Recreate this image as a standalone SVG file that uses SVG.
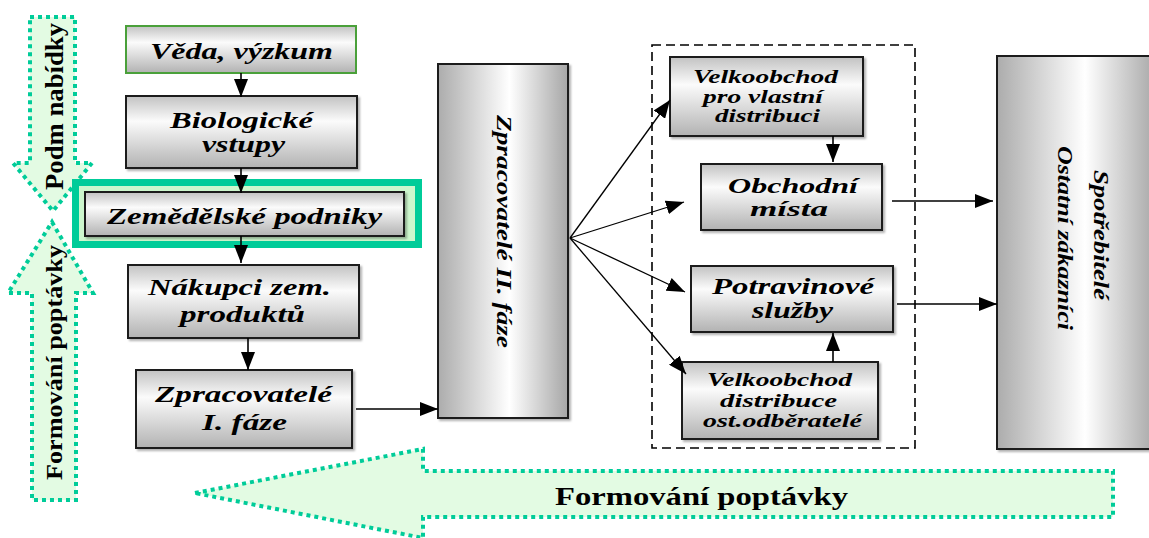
<svg xmlns="http://www.w3.org/2000/svg" width="1149" height="538" viewBox="0 0 1149 538">
<style>
.box{stroke:#1a1a1a;stroke-width:2;fill:url(#gv);filter:url(#sh)}
.tall{stroke:#1a1a1a;stroke-width:2;fill:url(#gh);filter:url(#sh)}
.t{font-family:"Liberation Serif","Times New Roman",serif;font-weight:bold;font-style:italic;fill:#000}
.tb{font-family:"Liberation Serif","Times New Roman",serif;font-weight:bold;fill:#000}
.big{font-size:24px}
.sm{font-size:19px}
.con{stroke:#000;stroke-width:1.6;fill:none;marker-end:url(#ah)}
.fan{stroke:#000;stroke-width:1.3;fill:none;marker-end:url(#ah)}
.dot{fill:#e3fbe3;stroke:#00cc99;stroke-width:4;stroke-dasharray:4 4}
</style>
<defs>
<linearGradient id="gv" x1="0" y1="0" x2="0" y2="1">
<stop offset="0" stop-color="#c2c2c2"/>
<stop offset="0.35" stop-color="#fbfbfb"/>
<stop offset="1" stop-color="#b2b2b2"/>
</linearGradient>
<linearGradient id="gh" x1="0" y1="0" x2="1" y2="0">
<stop offset="0" stop-color="#acacac"/>
<stop offset="0.55" stop-color="#ffffff"/>
<stop offset="1" stop-color="#a6a6a6"/>
</linearGradient>
<filter id="sh" x="-5%" y="-5%" width="115%" height="115%">
<feDropShadow dx="2" dy="2" stdDeviation="1" flood-color="#000" flood-opacity="0.3"/>
</filter>
<marker id="ah" markerUnits="userSpaceOnUse" markerWidth="18" markerHeight="14" viewBox="0 0 18 14" refX="18" refY="7" orient="auto">
<path d="M0,0 L18,7 L0,14 Z" fill="#000"/>
</marker>
</defs>

<g id="podm-nabidky">
<polygon class="dot" points="30,17 75,17 75,163 92,163 53,211 13,163 30,163"/>
<text class="tb" font-size="25" transform="translate(63,190) rotate(-90)" textLength="167" lengthAdjust="spacingAndGlyphs">Podm nabídky</text>
</g>
<g id="formovani-left">
<polygon class="dot" points="52,222 93,293 76,293 76,500 32,500 32,293 8,293"/>
<text class="tb" font-size="23" transform="translate(62,480) rotate(-90)" textLength="235" lengthAdjust="spacingAndGlyphs">Formování poptávky</text>
</g>
<g id="formovani-bottom">
<polygon class="dot" points="195,493 423,449 423,471 1113,471 1113,517 423,517 423,538"/>
<text class="tb" font-size="26" x="555" y="505" textLength="293" lengthAdjust="spacingAndGlyphs">Formování poptávky</text>
</g>

<g id="dashed-group">
<rect x="652" y="45" width="263" height="403" fill="none" stroke="#000" stroke-width="1.6" stroke-dasharray="9 5"/>
</g>

<g id="veda-vyzkum">
<rect x="126" y="26" width="230" height="47" fill="url(#gv)" stroke="#4aa03a" stroke-width="2"/>
<text class="t big" x="150" y="59" textLength="183" lengthAdjust="spacingAndGlyphs">Věda, výzkum</text>
</g>
<g id="biologicke-vstupy">
<rect class="box" x="126" y="96" width="231" height="72"/>
<text class="t big" x="170" y="128" textLength="143" lengthAdjust="spacingAndGlyphs">Biologické</text>
<text class="t big" x="202" y="152" textLength="83" lengthAdjust="spacingAndGlyphs">vstupy</text>
</g>
<g id="zemedelske-podniky">
<rect x="75.5" y="182.5" width="343" height="62" fill="#cdf7cd" stroke="#00cc99" stroke-width="7"/>
<rect class="box" x="85" y="192" width="319" height="44"/>
<text class="t big" x="107" y="224" textLength="275" lengthAdjust="spacingAndGlyphs">Zemědělské podniky</text>
</g>
<g id="nakupci">
<rect class="box" x="128" y="265" width="231" height="73"/>
<text class="t big" x="148" y="295" textLength="183" lengthAdjust="spacingAndGlyphs">Nákupci zem.</text>
<text class="t big" x="180" y="322" textLength="125" lengthAdjust="spacingAndGlyphs">produktů</text>
</g>
<g id="zpracovatele-1">
<rect class="box" x="136" y="370" width="216" height="78"/>
<text class="t big" x="155" y="402" textLength="177" lengthAdjust="spacingAndGlyphs">Zpracovatelé</text>
<text class="t big" x="202" y="430" textLength="85" lengthAdjust="spacingAndGlyphs">I. fáze</text>
</g>
<g id="zpracovatele-2">
<rect class="tall" x="438" y="64" width="130" height="354"/>
<text class="t" font-size="20" transform="translate(497,115) rotate(90)" textLength="233" lengthAdjust="spacingAndGlyphs">Zpracovatelé  II. fáze</text>
</g>
<g id="velkoobchod-vlastni">
<rect class="box" x="670" y="57" width="193" height="79"/>
<text class="t sm" x="693" y="83" textLength="145" lengthAdjust="spacingAndGlyphs">Velkoobchod</text>
<text class="t sm" x="703" y="103" textLength="120" lengthAdjust="spacingAndGlyphs">pro vlastní</text>
<text class="t sm" x="715" y="122" textLength="105" lengthAdjust="spacingAndGlyphs">distribuci</text>
</g>
<g id="obchodni-mista">
<rect class="box" x="701" y="164" width="181" height="66"/>
<text class="t" font-size="22" x="728" y="193" textLength="130" lengthAdjust="spacingAndGlyphs">Obchodní</text>
<text class="t" font-size="22" x="750" y="216" textLength="78" lengthAdjust="spacingAndGlyphs">místa</text>
</g>
<g id="potravinove-sluzby">
<rect class="box" x="691" y="266" width="202" height="66"/>
<text class="t big" x="712" y="294" textLength="162" lengthAdjust="spacingAndGlyphs">Potravinové</text>
<text class="t big" x="752" y="318" textLength="81" lengthAdjust="spacingAndGlyphs">služby</text>
</g>
<g id="velkoobchod-distribuce">
<rect class="box" x="682" y="362" width="196" height="77"/>
<text class="t sm" x="707" y="386" textLength="145" lengthAdjust="spacingAndGlyphs">Velkoobchod</text>
<text class="t sm" x="720" y="407" textLength="117" lengthAdjust="spacingAndGlyphs">distribuce</text>
<text class="t sm" x="703" y="427" textLength="159" lengthAdjust="spacingAndGlyphs">ost.odběratelé</text>
</g>
<g id="spotrebitele">
<rect class="tall" x="997" y="56" width="160" height="393"/>
<text class="t" font-size="22" transform="translate(1094,170) rotate(90)" textLength="130" lengthAdjust="spacingAndGlyphs">Spotřebitelé</text>
<text class="t" font-size="22" transform="translate(1058,146) rotate(90)" textLength="184" lengthAdjust="spacingAndGlyphs">Ostatní zákazníci</text>
</g>

<g id="connectors">
<line class="con" x1="241" y1="73" x2="241" y2="97"/>
<line class="con" x1="241" y1="168" x2="241" y2="193"/>
<line class="con" x1="241" y1="236" x2="241" y2="263"/>
<line class="con" x1="248" y1="338" x2="248" y2="370"/>
<line class="con" x1="356" y1="409" x2="438" y2="409"/>
<line class="fan" x1="570" y1="238" x2="670" y2="100"/>
<line class="fan" x1="570" y1="238" x2="684" y2="202"/>
<line class="fan" x1="570" y1="238" x2="685" y2="292"/>
<line class="fan" x1="570" y1="238" x2="686" y2="374"/>
<line class="con" x1="833" y1="136" x2="833" y2="162"/>
<line class="con" x1="833" y1="362" x2="833" y2="333"/>
<line class="con" x1="892" y1="201" x2="993" y2="201"/>
<line class="con" x1="897" y1="304" x2="997" y2="304"/>
</g>
</svg>
